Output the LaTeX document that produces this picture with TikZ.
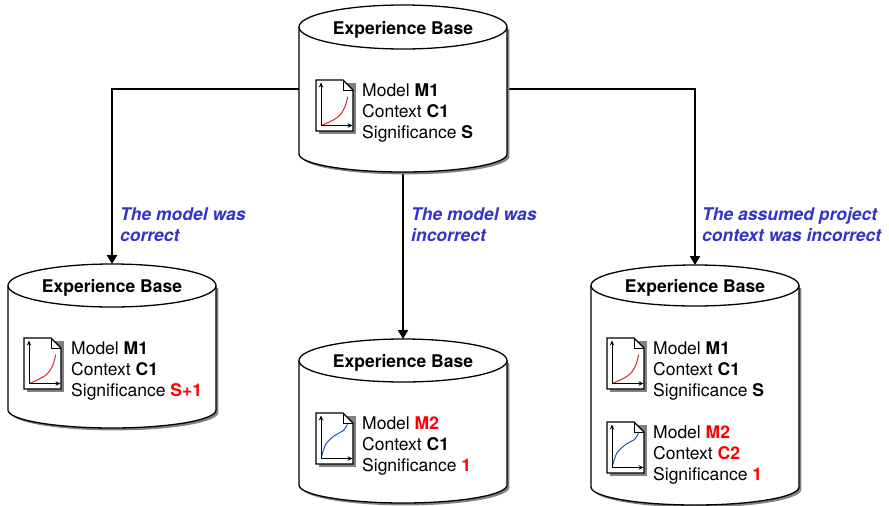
\documentclass[tikz,border=0pt]{standalone}
\usepackage{fontspec}
\setmainfont{TeX Gyre Heros}
\usetikzlibrary{arrows.meta,calc}
\definecolor{lab}{RGB}{51,51,204}
\definecolor{redc}{RGB}{255,0,0}
\definecolor{curvered}{RGB}{220,40,40}
\definecolor{curveblue}{RGB}{30,90,170}
\definecolor{shad}{RGB}{130,130,130}
\newcommand{\hl}[1]{\textcolor{redc}{\textbf{#1}}}
\tikzset{
  cylbox/.style={minimum width=208pt,minimum height=#1,inner sep=0pt,outer sep=0pt,draw=none,anchor=north},
  ebtitle/.style={font=\fontsize{17.5}{21}\selectfont\bfseries,inner sep=0pt},
  ebtext/.style={font=\fontsize{17.5}{21}\selectfont,align=left,anchor=north west,inner sep=0pt},
  notelabel/.style={font=\fontsize{17.5}{21}\selectfont\bfseries\itshape,text=lab,align=left,anchor=north west,inner sep=0pt},
  link/.style={line width=2.5pt,black,-{Triangle[length=9pt,width=10pt]}},
  axisline/.style={line width=1pt,black,-{Stealth[length=5pt,width=4.4pt]}},
  curve/.style={line width=1pt,#1},
}
% cylinder: centre x, top y, bottom y, top radius
\newcommand{\ebcyl}[4]{%
  \foreach \off in {2.4}{%
    \fill[shad] ({#1-104+\off},{#2+#4+\off}) -- ({#1+104+\off},{#2+#4+\off}) -- ({#1+104+\off},{#3-18+\off})
      .. controls ({#1+104+\off},{#3-8+\off}) and ({#1+57+\off},{#3+\off}) .. ({#1+\off},{#3+\off})
      .. controls ({#1-57+\off},{#3+\off}) and ({#1-104+\off},{#3-8+\off}) .. ({#1-104+\off},{#3-18+\off}) -- cycle;}
  \draw[line width=1.3pt,fill=white] ({#1-104},{#2+#4}) -- ({#1-104},{#3-18})
      .. controls ({#1-104},{#3-8}) and ({#1-57},{#3}) .. ({#1},{#3})
      .. controls ({#1+57},{#3}) and ({#1+104},{#3-8}) .. ({#1+104},{#3-18}) -- ({#1+104},{#2+#4});
  \draw[line width=1.3pt,fill=white] (#1,{#2+#4}) ellipse [x radius=104pt,y radius=#4 pt];
}
% document icon: x, y, curve colour, curve points
\newcommand{\docicon}[4]{%
  \begin{scope}[shift={(#1,#2)}]
    \fill[shad] (2.5,2.5) rectangle (39.5,53.5);
    \draw[line width=1.3pt,fill=white] (0,0) -- (27,0) -- (37,10) -- (37,51) -- (0,51) -- cycle;
    \draw[line width=1pt] (27,0) -- (27,10) -- (37,10);
    \draw[curve=#3] plot[smooth] coordinates {#4};
    \draw[axisline] (5,46) -- (5,2.5);
    \draw[axisline] (5,45.5) -- (36.5,45.5);
  \end{scope}}
\newcommand{\redcurve}{(5,45.7) (17.3,40) (24,35) (29,26.7) (31.7,16.7)}
\newcommand{\bluecurve}{(5.3,44.7) (9.7,31.3) (18,23) (28,17) (31.3,11.3)}
\begin{document}
\begin{tikzpicture}[x=1pt,y=-1pt]
\useasboundingbox (0,0) rectangle (889,506);
% invisible frames that carry the connectors
\node[cylbox=168pt] (top) at (403,5) {};
\node[cylbox=164pt] (left) at (112,264) {};
\node[cylbox=164pt] (mid) at (403,339) {};
\node[cylbox=240pt] (right) at (695,265) {};
% connectors
\draw[link] (top.west) -| (left.north);
\draw[link] (top.south) -- (mid.north);
\draw[link] (top.east) -| (right.north);
% cylinders
\ebcyl{403}{5}{172}{22}
\ebcyl{112}{264}{428}{21.5}
\ebcyl{403}{339}{503}{21.5}
\ebcyl{695}{265}{505}{20.5}
\node[ebtitle] (t1) at (403,29.5) {Experience Base};
\node[ebtitle] (t2) at (112,287.5) {Experience Base};
\node[ebtitle] (t3) at (403,362.5) {Experience Base};
\node[ebtitle] (t4) at (695,287.5) {Experience Base};
% icons
\docicon{316}{80}{curvered}{\redcurve}
\docicon{24}{338}{curvered}{\redcurve}
\docicon{316}{413}{curveblue}{\bluecurve}
\docicon{607}{338}{curvered}{\redcurve}
\docicon{607}{422}{curveblue}{\bluecurve}
% texts
\node[ebtext] (a) at (362,84) {Model \textbf{M1}\\Context \textbf{C1}\\Significance \textbf{S}};
\node[ebtext] (b) at (71,342) {Model \textbf{M1}\\Context \textbf{C1}\\Significance \hl{S+1}};
\node[ebtext] (c) at (362,417) {Model \hl{M2}\\Context \textbf{C1}\\Significance \hl{1}};
\node[ebtext] (d) at (653,342) {Model \textbf{M1}\\Context \textbf{C1}\\Significance \textbf{S}};
\node[ebtext] (e) at (653,425.5) {Model \hl{M2}\\Context \hl{C2}\\Significance \hl{1}};
% labels
\node[notelabel] (l1) at (120,207.5) {The model was\\correct};
\node[notelabel] (l2) at (411,207.5) {The model was\\incorrect};
\node[notelabel] (l3) at (702,207.5) {The assumed project\\context was incorrect};
\end{tikzpicture}
\end{document}
